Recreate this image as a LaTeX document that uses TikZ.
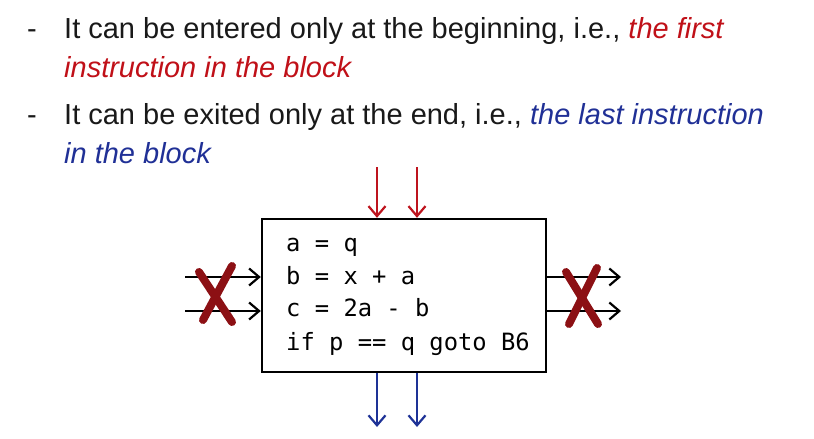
\documentclass[tikz,border=0pt]{standalone}
\usepackage{fontspec}
\setmainfont{Liberation Sans}
\newfontfamily\codefont{DejaVu Sans Mono}
\usetikzlibrary{arrows.meta}
\definecolor{txtred}{RGB}{192,16,24}
\definecolor{txtblue}{RGB}{32,48,150}
\definecolor{xred}{RGB}{140,16,20}
\definecolor{arrred}{RGB}{190,20,30}
\definecolor{arrblue}{RGB}{30,50,150}
\tikzset{
  bullet/.style={anchor=base west, inner sep=0pt, font=\fontsize{29}{32}\selectfont, text=black!90},
  codeline/.style={anchor=base west, inner sep=0pt, font=\codefont\fontsize{23.8}{26}\selectfont},
  blockbox/.style={draw=black, line width=2.4pt, minimum width=284pt, minimum height=153pt, inner sep=0pt},
  flow/.style={line width=2.2pt, -{Straight Barb[length=10pt,width=17pt,line width=2.2pt]}},
  cross/.style={draw=xred, line width=8pt, line cap=round}
}
\begin{document}
\begin{tikzpicture}[x=1pt,y=-1pt]
\useasboundingbox (0,0) rectangle (814,439);
% bullet texts
\node[bullet] (d1) at (27,38) {-};
\node[bullet] (t1) at (64,38) {It can be entered only at the beginning, i.e., \textcolor{txtred}{\itshape the first}};
\node[bullet] (t2) at (64,77) {\textcolor{txtred}{\itshape instruction in the block}};
\node[bullet] (d2) at (27,124) {-};
\node[bullet] (t3) at (64,124) {It can be exited only at the end, i.e., \textcolor{txtblue}{\itshape the last instruction}};
\node[bullet] (t4) at (64,163) {\textcolor{txtblue}{\itshape in the block}};
% block
\node[blockbox] (blk) at (404,295.5) {};
\node[codeline] (c1) at (286,251) {a = q};
\node[codeline] (c2) at (286,284) {b = x + a};
\node[codeline] (c3) at (286,316) {c = 2a - b};
\node[codeline] (c4) at (286,350) {if p == q goto B6};
% entry arrows (top, red)
\coordinate (in1) at (377,167);
\coordinate (in2) at (417,167);
\draw[flow, draw=arrred] (in1) -- (in1 |- blk.north);
\draw[flow, draw=arrred] (in2) -- (in2 |- blk.north);
% exit arrows (bottom, blue)
\coordinate (out1) at (377,427);
\coordinate (out2) at (417,427);
\draw[flow, draw=arrblue] (out1 |- blk.south) -- (out1);
\draw[flow, draw=arrblue] (out2 |- blk.south) -- (out2);
% side entries (left)
\coordinate (l1) at (185,277);
\coordinate (l2) at (185,311);
\draw[flow] (l1) -- (l1 -| blk.west);
\draw[flow] (l2) -- (l2 -| blk.west);
% side exits (right)
\coordinate (r1) at (621,277);
\coordinate (r2) at (621,311);
\draw[flow] (r1 -| blk.east) -- (r1);
\draw[flow] (r2 -| blk.east) -- (r2);
% crosses
\draw[cross] (199,272) -- (232,322);
\draw[cross] (232,266) -- (203,320);
\draw[cross] (566,272) -- (598,324);
\draw[cross] (597,268) -- (569,324);
\end{tikzpicture}
\end{document}
